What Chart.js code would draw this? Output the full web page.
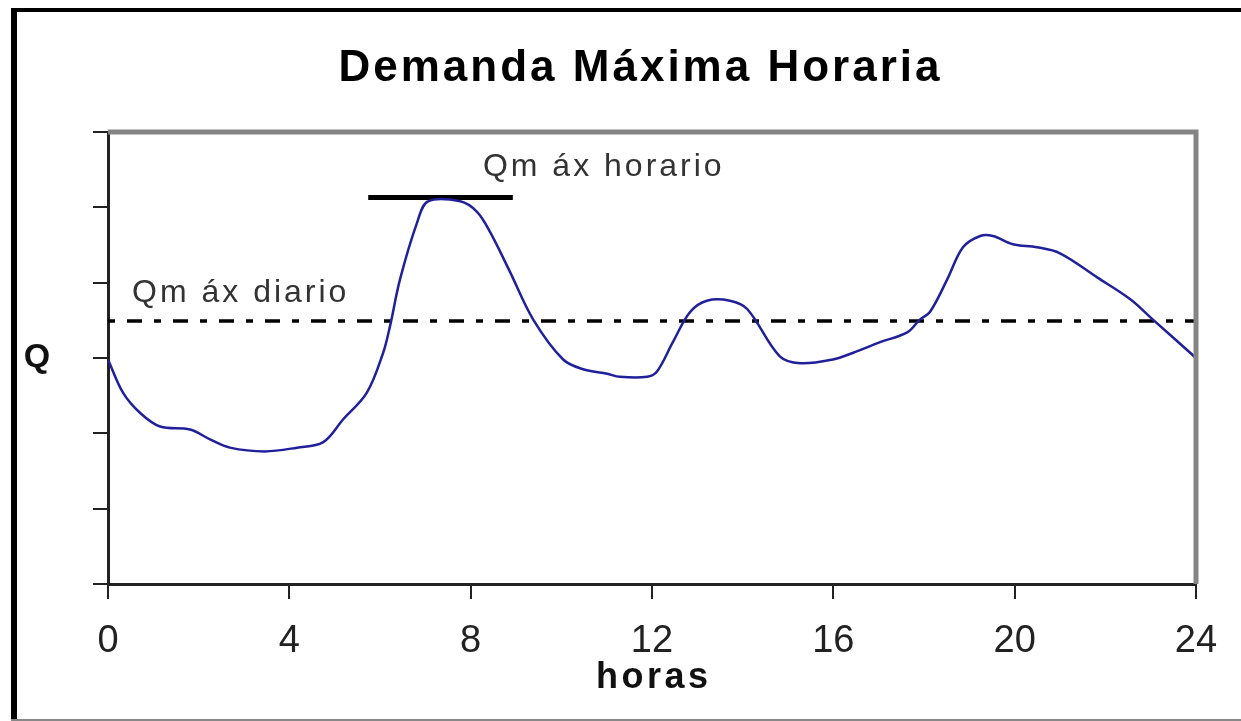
<!DOCTYPE html>
<html>
<head>
<meta charset="utf-8">
<script src="https://cdn.jsdelivr.net/npm/chart.js@4"></script>
<style>
  html, body { margin: 0; padding: 0; background: #fff; }
  #wrap { width: 1241px; height: 721px; position: relative; }
</style>
</head>
<body>
<div id="wrap"><canvas id="chart"></canvas></div>
<script>
// Hourly demand curve (hours, relative Q)
const hours = [0, 0.33, 0.71, 1.15, 1.81, 2.25, 2.69, 3.46, 4.17, 4.74, 5.18, 5.71, 6.07, 6.22, 6.44, 6.82, 7.06, 7.77, 8.14, 8.43, 8.87, 9.38, 10.04, 10.48, 11.01, 11.29, 11.89, 12.11, 12.46, 12.84, 13.21, 13.72, 14.1, 14.82, 15.27, 15.99, 16.44, 17.03, 17.63, 17.91, 18.13, 18.51, 18.86, 19.24, 19.52, 19.96, 20.49, 21.0, 21.82, 22.55, 23.05, 24];
const demand = [2.98, 2.54, 2.27, 2.09, 2.05, 1.92, 1.81, 1.76, 1.81, 1.88, 2.18, 2.54, 3.07, 3.42, 4.04, 4.8, 5.08, 5.08, 4.94, 4.67, 4.14, 3.51, 2.98, 2.85, 2.79, 2.75, 2.75, 2.82, 3.21, 3.61, 3.76, 3.76, 3.65, 3.02, 2.93, 2.98, 3.07, 3.21, 3.34, 3.51, 3.61, 4.04, 4.47, 4.62, 4.62, 4.51, 4.47, 4.39, 4.07, 3.78, 3.51, 3.0];

// Reference levels
const qmaxDiario = 3.49;
const qmaxHorario = 5.13;
const horarioSpan = [5.74, 8.93];

// Axis ticks
const xTicks = [0, 4, 8, 12, 16, 20, 24];
const yTicks = [0, 1, 2, 3, 4, 5, 6];

const FONT = "'Liberation Sans', Arial, sans-serif";

function drawText(ctx, text, x, y, font, color, spacing, align) {
  ctx.save();
  ctx.font = font;
  ctx.fillStyle = color;
  ctx.letterSpacing = spacing + "px";
  ctx.textBaseline = "alphabetic";
  let w = ctx.measureText(text).width - spacing;
  let left = x;
  if (align === "center") left = x - w / 2;
  ctx.textAlign = "left";
  ctx.fillText(text, left, y);
  ctx.restore();
}

// Frames and texts drawn around the chart
const decorPlugin = {
  id: "decor",
  afterDraw(chart) {
    const ctx = chart.ctx;
    const area = chart.chartArea;
    const xs = chart.scales.x;
    const ys = chart.scales.y;

    // outer box
    ctx.save();
    ctx.fillStyle = "#000";
    ctx.fillRect(11, 8, 6, 713);
    ctx.fillRect(11, 8, 1230, 4);
    ctx.fillStyle = "#888";
    ctx.fillRect(11, 719, 1230, 2);

    // gray top/right plot frame
    ctx.strokeStyle = "#858585";
    ctx.lineWidth = 5;
    ctx.beginPath();
    ctx.moveTo(area.left, area.top);
    ctx.lineTo(area.right, area.top);
    ctx.lineTo(area.right, area.bottom);
    ctx.stroke();
    ctx.restore();

    drawText(ctx, "Demanda Máxima Horaria", 639, 81, "bold 44px " + FONT, "#000", 3, "center");
    drawText(ctx, "horas", 652, 688, "bold 36px " + FONT, "#111", 3.5, "center");
    drawText(ctx, "Q", 37, 367, "bold 34px " + FONT, "#111", 0, "center");
    drawText(ctx, "Qm áx diario", xs.getPixelForValue(0.53), ys.getPixelForValue(3.74), "32px " + FONT, "#333", 3, "left");
    drawText(ctx, "Qm áx horario", xs.getPixelForValue(8.27), ys.getPixelForValue(5.41), "32px " + FONT, "#333", 3, "left");
  }
};

new Chart(document.getElementById("chart"), {
  type: "line",
  data: {
    datasets: [
      {
        label: "Q",
        data: hours.map((h, i) => ({ x: h, y: demand[i] })),
        borderColor: "#20209a",
        borderWidth: 2.5,
        pointRadius: 0,
        tension: 0.35,
        fill: false
      },
      {
        label: "Qmáx diario",
        data: [{ x: 0, y: qmaxDiario }, { x: 24, y: qmaxDiario }],
        borderColor: "#000",
        borderWidth: 3.5,
        borderDash: [7, 12, 15, 12],
        pointRadius: 0
      },
      {
        label: "Qmáx horario",
        data: horarioSpan.map((h) => ({ x: h, y: qmaxHorario })),
        borderColor: "#000",
        borderWidth: 5,
        pointRadius: 0
      }
    ]
  },
  options: {
    responsive: true,
    maintainAspectRatio: false,
    animation: false,
    layout: { padding: { top: 132, right: 45, left: 0, bottom: 0 } },
    plugins: {
      legend: { display: false },
      tooltip: { enabled: false },
      title: { display: false }
    },
    scales: {
      x: {
        type: "linear",
        min: 0,
        max: 24,
        afterBuildTicks: (scale) => { scale.ticks = xTicks.map((v) => ({ value: v })); },
        ticks: {
          color: "#222",
          font: { family: FONT, size: 38 },
          padding: 20,
          maxRotation: 0,
          autoSkip: false
        },
        grid: { drawOnChartArea: false, drawTicks: true, tickLength: 15, color: "#222", lineWidth: 2 },
        border: { color: "#222", width: 3 },
        afterFit: (scale) => { scale.height = 137; }
      },
      y: {
        type: "linear",
        min: 0,
        max: 6,
        afterBuildTicks: (scale) => { scale.ticks = yTicks.map((v) => ({ value: v })); },
        ticks: { display: false },
        grid: { drawOnChartArea: false, drawTicks: true, tickLength: 15, color: "#222", lineWidth: 2 },
        border: { color: "#222", width: 3 },
        afterFit: (scale) => { scale.width = 108; }
      }
    }
  },
  plugins: [decorPlugin]
});
</script>
</body>
</html>
